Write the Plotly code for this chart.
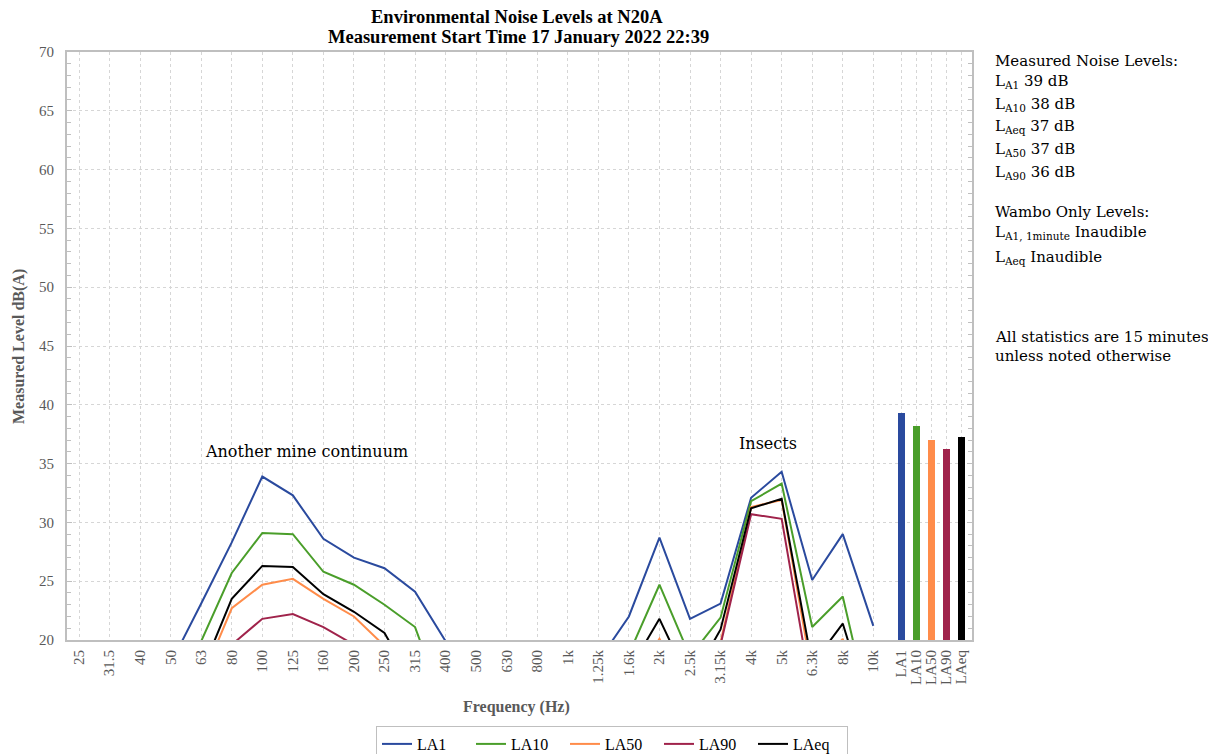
import plotly.graph_objects as go

# ---------------- data ----------------
freq_labels = ["25", "31.5", "40", "50", "63", "80", "100", "125", "160", "200", "250",
               "315", "400", "500", "630", "800", "1k", "1.25k", "1.6k", "2k", "2.5k",
               "3.15k", "4k", "5k", "6.3k", "8k", "10k"]

la1 = [14.5, 15.0, 16.0, 18.0, 23.1, 28.3, 33.9, 32.3, 28.6, 27.0, 26.1,
       24.1, 19.9, 17.0, 16.0, 16.0, 16.5, 18.2, 22.0, 28.7, 21.8,
       23.1, 32.1, 34.3, 25.1, 29.0, 21.2]
la10 = [12.0, 12.5, 13.5, 15.5, 19.9, 25.7, 29.1, 29.0, 25.8, 24.7, 23.0,
        21.1, 14.0, 13.0, 12.5, 12.5, 13.0, 15.5, 18.8, 24.7, 18.6,
        21.9, 31.8, 33.3, 21.1, 23.7, 12.5]
la50 = [10.0, 10.5, 11.5, 13.0, 16.5, 22.7, 24.7, 25.2, 23.5, 22.0, 19.5,
        15.0, 11.0, 10.5, 10.0, 10.0, 10.5, 12.5, 16.0, 20.1, 15.5,
        19.8, 31.3, 31.9, 17.0, 20.1, 11.0]
la90 = [9.0, 9.5, 10.0, 11.5, 15.0, 19.6, 21.8, 22.2, 21.1, 19.6, 16.5,
        13.0, 10.0, 9.5, 9.0, 9.0, 9.5, 11.0, 14.0, 17.0, 14.0,
        19.6, 30.7, 30.3, 15.3, 17.0, 10.0]
laeq = [10.5, 11.0, 12.0, 13.5, 17.2, 23.5, 26.3, 26.2, 23.9, 22.4, 20.6,
        16.0, 12.0, 11.5, 11.0, 11.0, 11.5, 13.5, 17.4, 21.8, 16.3,
        20.9, 31.2, 32.0, 17.9, 21.4, 13.0]

overall_labels = ["LA1", "LA10", "LA50", "LA90", "LAeq"]
overall_values = [39.3, 38.2, 37.0, 36.2, 37.3]

series_names = ["LA1", "LA10", "LA50", "LA90", "LAeq"]
series_values = [la1, la10, la50, la90, laeq]
colors = ["#2a4a9e", "#4a9e2a", "#ff8c4a", "#a0234b", "#000000"]

# ---------------- layout helpers ----------------
# the page body adds an 8px offset, so the figure is drawn from (8, 8)
OFF = 8
W, H = 1216 - OFF, 754 - OFF
SL, SR, ST, SB = 67, 972, 52, 640          # plot area in screen pixels
L, R, T, B = SL - OFF, SR - OFF, ST - OFF, SB - OFF
def px(x):
    return (x - SL) / (SR - SL)
def py(y):
    return (SB - y) / (SB - ST)

n = len(freq_labels)
fx = list(range(n))
bar_start = n - 1 + 0.92
bar_step = 0.49
bx = [bar_start + bar_step * i for i in range(len(overall_labels))]

serif = "Liberation Serif"
serif2 = "DejaVu Serif"
grey = "#595959"
gridc = "#d6d6d6"

fig = go.Figure()
for name, vals, c in zip(series_names, series_values, colors):
    fig.add_trace(go.Scatter(x=fx, y=vals, mode="lines", name=name,
                             line=dict(color=c, width=2)))
for lab, v, c, x in zip(overall_labels, overall_values, colors, bx):
    fig.add_trace(go.Bar(x=[x], y=[v], width=0.23, marker=dict(color=c, line=dict(width=0)),
                         showlegend=False, name=lab))

fig.update_layout(
    width=W, height=H,
    margin=dict(l=L, r=W - R, t=T, b=H - B, autoexpand=False),
    plot_bgcolor="white", paper_bgcolor="white",
    font=dict(family=serif, size=15, color="black"),
    showlegend=True,
    legend=dict(orientation="h", xref="container", x=0.5, xanchor="center",
                y=py(726), yanchor="top",
                bordercolor="#bfbfbf", borderwidth=1, bgcolor="white",
                font=dict(family=serif, size=16, color="black"),
                itemwidth=30, tracegroupgap=0,
                entrywidth=49, entrywidthmode="pixels"),
    bargap=0,
)

fig.update_xaxes(
    range=[(SL - 79) / 30.55, (SR - 79) / 30.55],
    tickmode="array", tickvals=fx + bx, ticktext=freq_labels + overall_labels,
    tickangle=-90, tickfont=dict(family=serif, size=15, color=grey),
    showgrid=True, gridcolor=gridc, griddash="dot", gridwidth=1,
    showline=True, linecolor="#bfbfbf", linewidth=2, mirror=True,
    ticks="", zeroline=False, ticklabelstandoff=2, automargin=False,
)
fig.update_yaxes(
    range=[20, 70], tickmode="linear", tick0=20, dtick=5,
    tickfont=dict(family=serif, size=15, color=grey),
    showgrid=True, gridcolor=gridc, griddash="dot", gridwidth=1,
    showline=True, linecolor="#bfbfbf", linewidth=2, mirror="allticks",
    ticks="inside", ticklen=5, tickcolor="#bfbfbf",
    minor=dict(dtick=1, ticks="inside", ticklen=4, tickcolor="#bfbfbf", showgrid=False),
    zeroline=False, ticklabelstandoff=8, automargin=False,
)

annos = []
annos.append(dict(text="<b>Environmental Noise Levels at N20A</b>", x=px(517), y=py(17),
                  xanchor="center", yanchor="middle", font=dict(family=serif, size=18.5, color="black")))
annos.append(dict(text="<b>Measurement Start Time 17 January 2022 22:39</b>", x=px(518), y=py(37),
                  xanchor="center", yanchor="middle", font=dict(family=serif, size=18.5, color="black")))
annos.append(dict(text="<b>Frequency (Hz)</b>", x=px(516), y=py(707), xanchor="center", yanchor="middle",
                  font=dict(family=serif, size=16, color=grey)))
annos.append(dict(text="<b>Measured Level dB(A)</b>", x=px(19), y=py(347), xanchor="center", yanchor="middle",
                  textangle=-90, font=dict(family=serif, size=16, color=grey)))
annos.append(dict(text="Another mine continuum", x=px(306), y=py(451), xanchor="center", yanchor="middle",
                  font=dict(family=serif2, size=16, color="black")))
annos.append(dict(text="Insects", x=px(768), y=py(443), xanchor="center", yanchor="middle",
                  font=dict(family=serif2, size=16, color="black")))

lookup = dict(zip(overall_labels, overall_values))
side_lines = [
    ("Measured Noise Levels:", 61),
    ("L<sub>A1</sub> %d dB" % round(lookup["LA1"]), 82),
    ("L<sub>A10</sub> %d dB" % round(lookup["LA10"]), 104),
    ("L<sub>Aeq</sub> %d dB" % round(lookup["LAeq"]), 126),
    ("L<sub>A50</sub> %d dB" % round(lookup["LA50"]), 150),
    ("L<sub>A90</sub> %d dB" % round(lookup["LA90"]), 173),
    ("Wambo Only Levels:", 212),
    ("L<sub>A1, 1minute</sub> Inaudible", 233),
    ("L<sub>Aeq</sub> Inaudible", 257),
    ("All statistics are 15 minutes", 337),
    ("unless noted otherwise", 356),
]
for txt, yy in side_lines:
    annos.append(dict(text=txt, x=px(993), y=py(yy), xanchor="left", yanchor="middle",
                      font=dict(family=serif2, size=15, color="black")))
for a in annos:
    a.update(xref="paper", yref="paper", showarrow=False)
fig.update_layout(annotations=annos)

fig.write_html("out.html")
